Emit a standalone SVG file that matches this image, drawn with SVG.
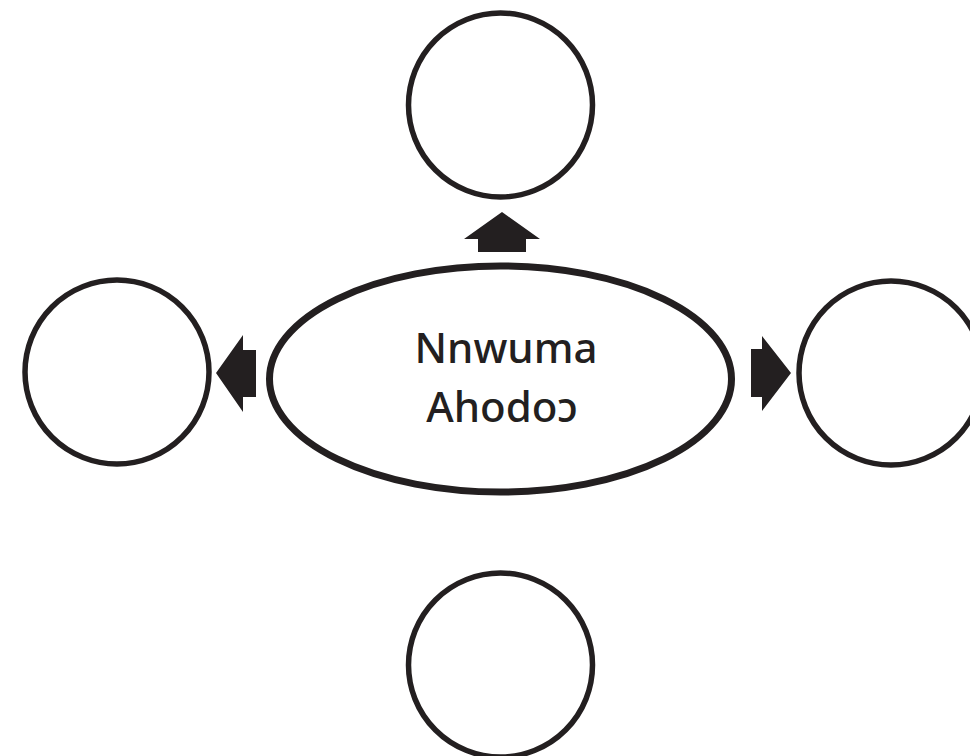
<svg xmlns="http://www.w3.org/2000/svg" width="970" height="756" viewBox="0 0 970 756">
<style>
.c{fill:#fff;stroke:#231f20;stroke-width:5.5}
.a{fill:#231f20;stroke:none}
.t{font-family:"Noto Sans","Open Sans",sans-serif;font-size:42px;font-weight:500;fill:#231f20;text-anchor:middle}
</style>
<rect width="970" height="756" fill="#fff"/>
<g id="top"><circle class="c" cx="500.5" cy="105" r="92"/></g>
<g id="left"><circle class="c" cx="117" cy="372" r="92"/></g>
<g id="right"><circle class="c" cx="891" cy="373" r="92"/></g>
<g id="bottom"><circle class="c" cx="500.5" cy="665" r="92"/></g>
<g id="center">
<ellipse cx="500.5" cy="379" rx="231" ry="113" fill="#fff" stroke="#231f20" stroke-width="7"/>
<text class="t" x="506" y="363">Nnwuma</text>
<text class="t" x="502" y="422">Ahodoɔ</text>
</g>
<g id="connectors">
<polygon class="a" points="502,212 540,239 526,239 526,252 478,252 478,239 464,239"/>
<polygon class="a" points="216,373 243,335 243,350 256,350 256,397 243,397 243,412"/>
<polygon class="a" points="791,373 762,336 762,349 751,349 751,397 762,397 762,411"/>
</g>
</svg>
